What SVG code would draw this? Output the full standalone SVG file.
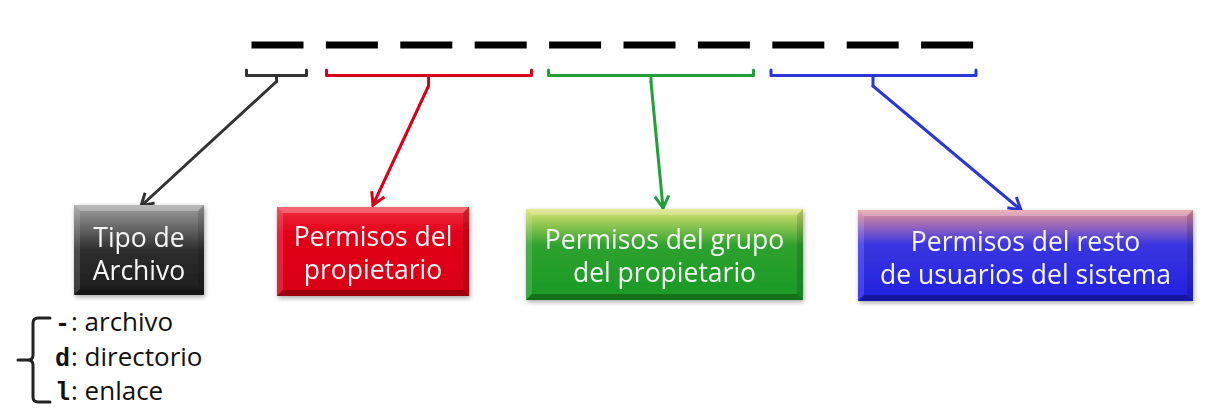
<svg xmlns="http://www.w3.org/2000/svg" width="1211" height="418" viewBox="0 0 1211 418">
<style>
.dash{fill:#000}
.conn{fill:none;stroke-width:3;stroke-linejoin:round;stroke-linecap:round}
.lbl{font-family:"Open Sans","Liberation Sans",sans-serif;font-size:26.5px;fill:#f6f6f6;text-anchor:middle}
.leg{font-family:"Open Sans","Liberation Sans",sans-serif;font-size:26px;fill:#111}
.mono{font-family:"Liberation Mono","DejaVu Sans Mono",monospace;font-weight:bold;font-size:25px}
.bevT{fill:#fff;fill-opacity:.28}
.bevL{fill:#fff;fill-opacity:.14}
.bevR{fill:#000;fill-opacity:.14}
.bevB{fill:#000;fill-opacity:.28}
</style>
<defs>
<filter id="sh" x="-10%" y="-10%" width="120%" height="130%">
<feGaussianBlur in="SourceAlpha" stdDeviation="2.5"/>
<feOffset dx="1" dy="2" result="b"/>
<feComponentTransfer><feFuncA type="linear" slope="0.35"/></feComponentTransfer>
<feMerge><feMergeNode/><feMergeNode in="SourceGraphic"/></feMerge>
</filter>
<linearGradient id="gK" x1="0" y1="0" x2="0" y2="1">
<stop offset="0" stop-color="#a0a0a0"/><stop offset="0.5" stop-color="#2e2e2e"/><stop offset="1" stop-color="#1c1c1c"/>
</linearGradient>
<linearGradient id="gR" x1="0" y1="0" x2="0" y2="1">
<stop offset="0" stop-color="#f0303a"/><stop offset="0.3" stop-color="#e2001a"/><stop offset="1" stop-color="#d80014"/>
</linearGradient>
<linearGradient id="gG" x1="0" y1="0" x2="0" y2="1">
<stop offset="0" stop-color="#dce270"/><stop offset="0.4" stop-color="#2ea22e"/><stop offset="1" stop-color="#189a26"/>
</linearGradient>
<linearGradient id="gB" x1="0" y1="0" x2="0" y2="1">
<stop offset="0" stop-color="#e6909a"/><stop offset="0.38" stop-color="#3a36e0"/><stop offset="1" stop-color="#2020e0"/>
</linearGradient>
<marker id="aK" markerUnits="userSpaceOnUse" markerWidth="30" markerHeight="30" viewBox="-15 -15 30 30" refX="0" refY="0" orient="auto"><path d="M-12,-7 L0,0 L-12,7" fill="none" stroke="#333" stroke-width="3"/></marker>
<marker id="aR" markerUnits="userSpaceOnUse" markerWidth="30" markerHeight="30" viewBox="-15 -15 30 30" refX="0" refY="0" orient="auto"><path d="M-12,-7 L0,0 L-12,7" fill="none" stroke="#d9001b" stroke-width="3"/></marker>
<marker id="aG" markerUnits="userSpaceOnUse" markerWidth="30" markerHeight="30" viewBox="-15 -15 30 30" refX="0" refY="0" orient="auto"><path d="M-12,-7 L0,0 L-12,7" fill="none" stroke="#22a03a" stroke-width="3"/></marker>
<marker id="aB" markerUnits="userSpaceOnUse" markerWidth="30" markerHeight="30" viewBox="-15 -15 30 30" refX="0" refY="0" orient="auto"><path d="M-12,-7 L0,0 L-12,7" fill="none" stroke="#2b36d8" stroke-width="3"/></marker>
</defs>
<rect width="1211" height="418" fill="#fff"/>

<g id="dashes">
<rect class="dash" x="251.5" y="41.5" width="52" height="7"/>
<rect class="dash" x="325.9" y="41.5" width="52" height="7"/>
<rect class="dash" x="400.3" y="41.5" width="52" height="7"/>
<rect class="dash" x="474.7" y="41.5" width="52" height="7"/>
<rect class="dash" x="549.1" y="41.5" width="52" height="7"/>
<rect class="dash" x="623.5" y="41.5" width="52" height="7"/>
<rect class="dash" x="697.9" y="41.5" width="52" height="7"/>
<rect class="dash" x="772.3" y="41.5" width="52" height="7"/>
<rect class="dash" x="846.7" y="41.5" width="52" height="7"/>
<rect class="dash" x="921.1" y="41.5" width="52" height="7"/>
</g>

<g id="connectors">
<path class="conn" stroke="#333" d="M246.5,70 V75.5 H306.5 V70 M276.5,75.5 V81.5"/>
<path class="conn" stroke="#333" d="M276.5,81.5 L141,206" marker-end="url(#aK)"/>
<path class="conn" stroke="#d9001b" d="M326.5,70 V75.5 H531.5 V70 M428.5,75.5 V86"/>
<path class="conn" stroke="#d9001b" d="M428.5,86 L373,205" marker-end="url(#aR)"/>
<path class="conn" stroke="#22a03a" d="M548.5,70 V75.5 H753.5 V70 M651,75.5 V82"/>
<path class="conn" stroke="#22a03a" d="M651,82 L663,208" marker-end="url(#aG)"/>
<path class="conn" stroke="#2b36d8" d="M771,70 V75.5 H976 V70 M873,75.5 V86"/>
<path class="conn" stroke="#2b36d8" d="M873,86 L1021,210" marker-end="url(#aB)"/>
</g>

<g id="node-tipo" filter="url(#sh)">
<rect x="74" y="205" width="130" height="90" fill="url(#gK)"/>
<polygon class="bevT" points="74,205 204,205 198,211 80,211"/>
<polygon class="bevL" points="74,205 80,211 80,289 74,295"/>
<polygon class="bevR" points="204,205 198,211 198,289 204,295"/>
<polygon class="bevB" points="74,295 80,289 198,289 204,295"/>
<text class="lbl" x="139" y="247">Tipo de</text>
<text class="lbl" x="139" y="280">Archivo</text>
</g>

<g id="node-propietario" filter="url(#sh)">
<rect x="277" y="207" width="192" height="89" fill="url(#gR)"/>
<polygon class="bevT" points="277,207 469,207 463,213 283,213"/>
<polygon class="bevL" points="277,207 283,213 283,290 277,296"/>
<polygon class="bevR" points="469,207 463,213 463,290 469,296"/>
<polygon class="bevB" points="277,296 283,290 463,290 469,296"/>
<text class="lbl" x="373" y="246">Permisos del</text>
<text class="lbl" x="373" y="279">propietario</text>
</g>

<g id="node-grupo" filter="url(#sh)">
<rect x="526" y="209" width="277" height="91" fill="url(#gG)"/>
<polygon class="bevT" points="526,209 803,209 797,215 532,215"/>
<polygon class="bevL" points="526,209 532,215 532,294 526,300"/>
<polygon class="bevR" points="803,209 797,215 797,294 803,300"/>
<polygon class="bevB" points="526,300 532,294 797,294 803,300"/>
<text class="lbl" x="664.5" y="249">Permisos del grupo</text>
<text class="lbl" x="664.5" y="282">del propietario</text>
</g>

<g id="node-resto" filter="url(#sh)">
<rect x="858" y="210" width="335" height="91" fill="url(#gB)"/>
<polygon class="bevT" points="858,210 1193,210 1187,216 864,216"/>
<polygon class="bevL" points="858,210 864,216 864,295 858,301"/>
<polygon class="bevR" points="1193,210 1187,216 1187,295 1193,301"/>
<polygon class="bevB" points="858,301 864,295 1187,295 1193,301"/>
<text class="lbl" x="1025.5" y="251">Permisos del resto</text>
<text class="lbl" x="1025.5" y="284">de usuarios del sistema</text>
</g>

<g id="legend">
<path d="M50,318 H38 Q33,318 33,323 V355 Q33,360 28,360 H18 M28,360 Q33,360 33,365 V397 Q33,402 38,402 H50" fill="none" stroke="#222" stroke-width="3" stroke-linecap="round"/>
<text class="leg" x="55" y="331"><tspan class="mono">-</tspan><tspan x="71">: archivo</tspan></text>
<text class="leg" x="55" y="366"><tspan class="mono">d</tspan><tspan x="71">: directorio</tspan></text>
<text class="leg" x="55" y="400"><tspan class="mono">l</tspan><tspan x="71">: enlace</tspan></text>
</g>
</svg>
